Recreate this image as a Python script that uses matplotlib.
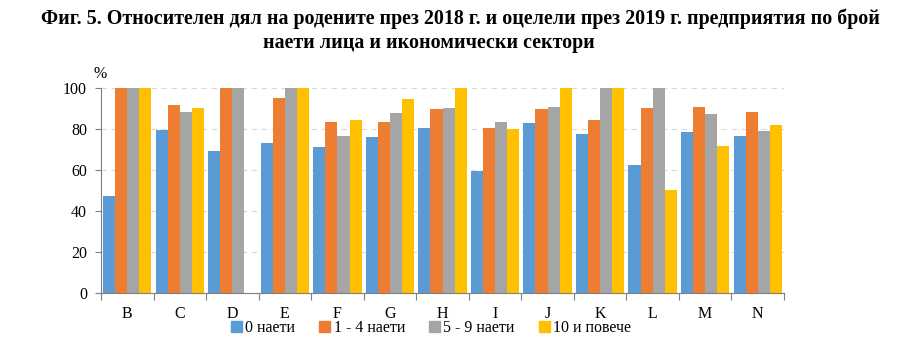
import numpy as np
import matplotlib.pyplot as plt
from matplotlib.patches import Patch

plt.rcParams['font.family'] = ['Liberation Serif', 'DejaVu Serif']

categories = ['B', 'C', 'D', 'E', 'F', 'G', 'H', 'I', 'J', 'K', 'L', 'M', 'N']
series_names = ['0 наети', '1 - 4 наети', '5 - 9 наети', '10 и повече']
emp_0 = [47.3, 79.5, 69.3, 73.2, 71.2, 76.1, 80.5, 59.5, 82.9, 77.6, 62.4, 78.5, 76.6]
emp_1_4 = [100, 91.7, 100, 95.1, 83.4, 83.4, 89.8, 80.5, 89.8, 84.4, 90.2, 90.7, 88.3]
emp_5_9 = [100, 88.3, 100, 100, 76.6, 87.8, 90.2, 83.4, 90.7, 100, 100, 87.3, 79.0]
emp_10 = [100, 90.2, 0, 100, 84.4, 94.6, 100, 80.0, 100, 100, 50.2, 71.7, 82.0]
colors = ['#5B9BD5', '#ED7D31', '#A5A5A5', '#FFC000']

fig = plt.figure(figsize=(9.01, 3.58), dpi=100)
ax = fig.add_axes([101 / 901, 1 - 293 / 358, (784 - 101) / 901, (293 - 88) / 358])

x = np.arange(len(categories))
width = 0.23
all_series = [emp_0, emp_1_4, emp_5_9, emp_10]
for i, vals in enumerate(all_series):
    ax.bar(x + (i - 1.5) * width, vals, width=width, color=colors[i], zorder=2)

ax.set_xlim(-0.5, len(categories) - 0.5)
ax.set_ylim(0, 100)
ax.set_yticks(range(0, 101, 20))
ax.tick_params(axis='y', length=4, color='#7F7F7F', labelsize=11.5, pad=6)
ax.yaxis.grid(True, color='#D9D9D9', linestyle=(0, (5, 4)), linewidth=0.8, zorder=0)

ax.set_xticks(np.arange(-0.5, len(categories), 1))
ax.set_xticklabels([])
ax.set_xticks(x, minor=True)
ax.set_xticklabels(categories, minor=True, fontsize=11.5)
ax.tick_params(axis='x', which='major', length=5, color='#7F7F7F')
ax.tick_params(axis='x', which='minor', length=0, pad=9)

for side in ['top', 'right']:
    ax.spines[side].set_visible(False)
for side in ['left', 'bottom']:
    ax.spines[side].set_color('#7F7F7F')

fig.text(100 / 901, 1 - 74 / 358, '%', fontsize=11.5, ha='center', va='center')

# title lines are not centred on the same point in the original
fig.text(460 / 901, 1 - 19 / 358,
         'Фиг. 5. Относителен дял на родените през 2018 г. и оцелели през 2019 г. предприятия по брой',
         fontsize=14.4, fontweight='bold', ha='center', va='center')
fig.text(429 / 901, 1 - 43 / 358, 'наети лица и икономически сектори',
         fontsize=14.4, fontweight='bold', ha='center', va='center')

handles = [Patch(color=c) for c in colors]
fig.legend(handles, series_names, loc='center', bbox_to_anchor=(431 / 901, 1 - 328 / 358),
           ncol=4, frameon=False, fontsize=11.5, handlelength=0.7, handleheight=0.7,
           handletextpad=0.2, columnspacing=1.5)

fig.savefig('out.png', dpi=100)
